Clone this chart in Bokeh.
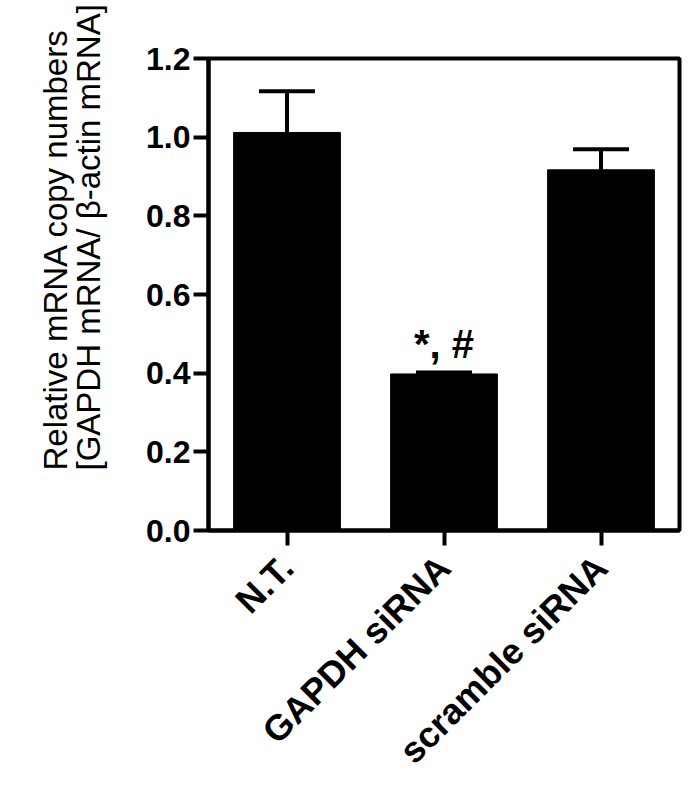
import math
from bokeh.plotting import figure
from bokeh.models import (ColumnDataSource, FixedTicker, NumeralTickFormatter,
                          Whisker, TeeHead, Title, Range1d, FactorRange)
from bokeh.core.properties import value
from bokeh.embed import file_html
from bokeh.resources import INLINE

categories = ["N.T.", "GAPDH siRNA", "scramble siRNA"]
means = [1.012, 0.398, 0.917]
errors = [0.105, 0.004, 0.052]
sig_labels = ["", "*, #", ""]
y_ticks = [0.0, 0.2, 0.4, 0.6, 0.8, 1.0, 1.2]
y_label_lines = ["Relative mRNA copy numbers", "[GAPDH mRNA/ \u03b2-actin mRNA]"]

upper = [m + e for m, e in zip(means, errors)]
src = ColumnDataSource(dict(cat=categories, mean=means, upper=upper, sig=sig_labels))

p = figure(x_range=FactorRange(*categories, range_padding=0),
           y_range=Range1d(0, 1.2),
           width=682, height=791, output_backend="svg", toolbar_location=None,
           min_border_left=208, min_border_top=58, min_border_right=3,
           min_border_bottom=261)

p.vbar(x="cat", top="mean", width=0.68, bottom=0, source=src,
       fill_color="black", line_color="black")

w = Whisker(base="cat", upper="upper", lower="mean", source=src,
            line_width=4, line_color="black",
            upper_head=TeeHead(size=56, line_width=4, line_color="black"),
            lower_head=None, level="overlay")
p.add_layout(w)

p.text(x="cat", y="upper", text="sig", source=src, text_align="center",
       text_baseline="bottom", y_offset=-6, text_font=value("Liberation Sans"),
       text_font_style="bold", text_font_size="40px", text_color="black")

p.xgrid.visible = False
p.ygrid.visible = False
p.outline_line_color = "black"
p.outline_line_width = 4
p.outline_line_alpha = 1

for ax in (p.xaxis[0], p.yaxis[0]):
    ax.axis_line_width = 4
    ax.axis_line_color = "black"
    ax.major_tick_line_width = 4
    ax.major_tick_line_color = "black"
    ax.major_tick_out = 15
    ax.major_tick_in = 0
    ax.minor_tick_line_color = None
    ax.major_label_text_font = "Liberation Sans"
    ax.major_label_text_font_style = "bold"
    ax.major_label_text_color = "black"

p.yaxis.ticker = FixedTicker(ticks=y_ticks)
p.yaxis.formatter = NumeralTickFormatter(format="0.0")
p.yaxis.major_label_text_font_size = "32px"
p.yaxis.major_label_standoff = 3

p.xaxis.major_label_orientation = math.pi / 4
p.xaxis.major_label_text_font_size = "36px"
p.xaxis.major_label_standoff = 16

p.add_layout(Title(text="\n".join(y_label_lines), align="left", offset=60,
                   standoff=70, vertical_align="top", text_line_height=0.9,
                   text_font="Liberation Sans", text_font_style="normal",
                   text_font_size="33px", text_color="black"), "left")

open("out.html", "w").write(file_html(p, INLINE))
